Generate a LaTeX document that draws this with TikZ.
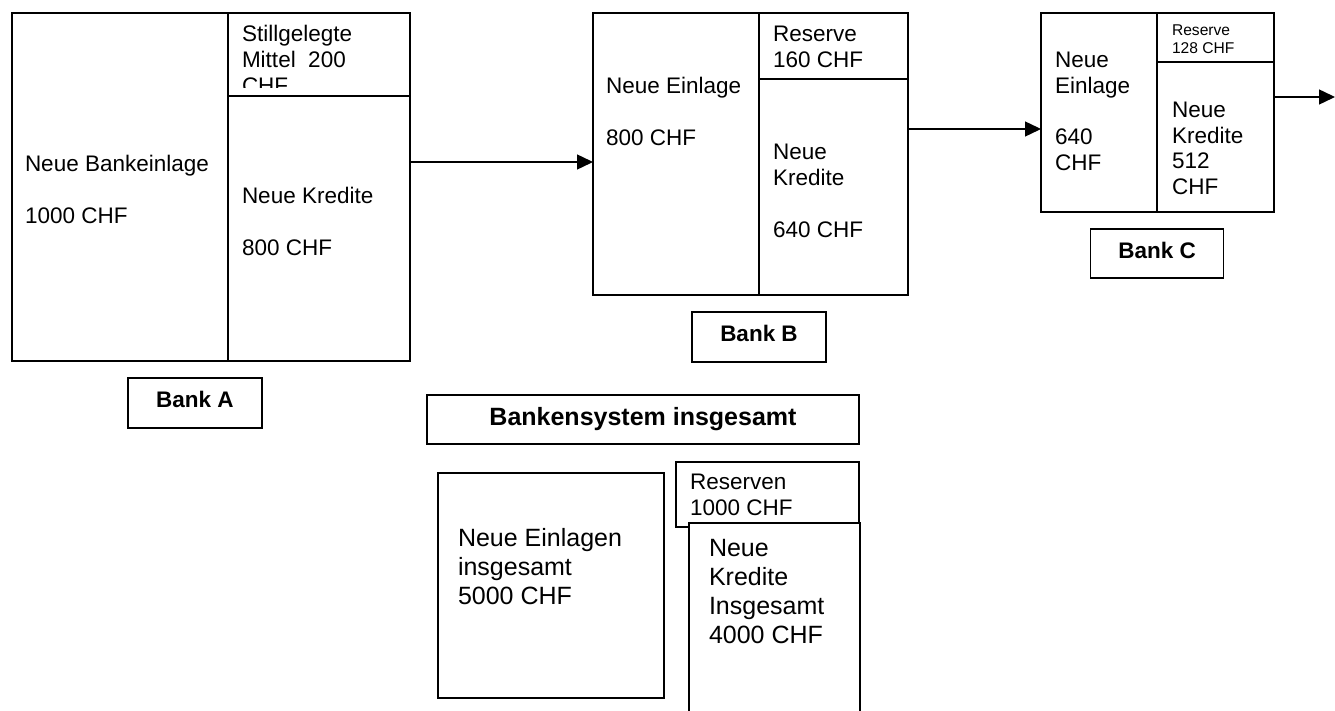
\documentclass[tikz,border=0pt]{standalone}
\usepackage{fontspec}
\setmainfont{Liberation Sans}
\usetikzlibrary{arrows.meta}
\tikzset{
  box/.style={draw, line width=1.4pt, outer sep=0pt, inner sep=0pt, anchor=north west, fill=white},
  lbl/.style={draw, line width=1.4pt, outer sep=0pt, inner sep=0pt, font=\fontsize{22.5}{26}\selectfont\bfseries, text depth=6.5pt},
  txt/.style={anchor=north west, inner sep=0pt, outer sep=0pt, align=left, font=\fontsize{22.5}{26}\selectfont},
  bigtxt/.style={anchor=north west, inner sep=0pt, outer sep=0pt, align=left, font=\fontsize{25}{29}\selectfont},
  smalltxt/.style={anchor=north west, inner sep=0pt, outer sep=0pt, align=left, font=\fontsize{15.6}{18}\selectfont},
  divider/.style={line width=1.4pt},
  arr/.style={line width=1.4pt, -{Triangle[length=16pt,width=15pt]}}
}
\begin{document}
\begin{tikzpicture}[x=1pt,y=-1pt]
\useasboundingbox (0,0) rectangle (1335,711);
\clip (0,0) rectangle (1335,711);

% ---------- Bank A ----------
\node[box, minimum width=398pt, minimum height=348pt] (A) at (12,13) {};
\coordinate (Atop) at (228,13);
\coordinate (Abot) at (228,361);
\draw[divider] (Atop) -- (Abot);
\coordinate (Amid) at (228,96);
\draw[divider] (Amid) -- (Amid -| A.east);
\node[txt] (Adep) at (25,155) {Neue Bankeinlage\\[26pt]1000 CHF};
\begin{scope}
  \clip (228,13) rectangle (410,88);
  \node[txt] (Astill) at (242,25) {Stillgelegte\\Mittel\ \ 200\\CHF};
\end{scope}
\node[txt] (Akred) at (242,187) {Neue Kredite\\[26pt]800 CHF};
\node[lbl, minimum width=134pt, minimum height=50pt] (LA) at (195,403) {Bank A};

% ---------- Bank B ----------
\node[box, minimum width=315pt, minimum height=282pt] (B) at (593,13) {};
\coordinate (Btop) at (759,13);
\coordinate (Bbot) at (759,295);
\draw[divider] (Btop) -- (Bbot);
\coordinate (Bmid) at (759,79);
\draw[divider] (Bmid) -- (Bmid -| B.east);
\node[txt] (Bdep) at (606,77) {Neue Einlage\\[26pt]800 CHF};
\node[txt] (Bres) at (773,26.5) {Reserve\\160 CHF};
\node[txt] (Bkred) at (773,144) {Neue\\Kredite\\[26pt]640 CHF};
\node[lbl, minimum width=134pt, minimum height=50pt] (LB) at (759,337) {Bank B};

% ---------- Bank C ----------
\node[box, minimum width=233pt, minimum height=199pt] (C) at (1041,13) {};
\coordinate (Ctop) at (1157,13);
\coordinate (Cbot) at (1157,212);
\draw[divider] (Ctop) -- (Cbot);
\coordinate (Cmid) at (1157,62);
\draw[divider] (Cmid) -- (Cmid -| C.east);
\node[txt] (Cdep) at (1055,52) {Neue\\Einlage\\[25pt]640\\CHF};
\node[smalltxt] (Cres) at (1172,25) {Reserve\\128 CHF};
\node[txt, font=\fontsize{22.5}{25.7}\selectfont] (Ckred) at (1172,102) {Neue\\Kredite\\512\\CHF};
\node[lbl, minimum width=133pt, minimum height=49pt] (LC) at (1157,253.5) {Bank C};

% ---------- arrows ----------
\coordinate (Aout) at (410,162);
\coordinate (Bin) at (593,162);
\draw[arr] (Aout) -- (Bin);
\coordinate (Bout) at (908,129);
\coordinate (Cin) at (1041,129);
\draw[arr] (Bout) -- (Cin);
\coordinate (Cout) at (1274,97);
\coordinate (Next) at (1335,97);
\draw[arr] (Cout) -- (Next);

% ---------- Bankensystem insgesamt ----------
\node[draw, line width=1.4pt, outer sep=0pt, inner sep=0pt, minimum width=432pt, minimum height=49pt,
      font=\fontsize{25}{29}\selectfont\bfseries] (Sys) at (643,419.5) {Bankensystem insgesamt};
\node[box, minimum width=226pt, minimum height=225pt] (E) at (438,473) {};
\node[bigtxt] (Etxt) at (458,528) {Neue Einlagen\\insgesamt\\5000 CHF};
\node[box, minimum width=183pt, minimum height=65pt] (R) at (676,462) {};
\node[txt] (Rtxt) at (690,474) {Reserven\\1000 CHF};
\node[box, minimum width=171pt, minimum height=220pt] (K) at (689,523) {};
\node[bigtxt] (Ktxt) at (709,539) {Neue\\Kredite\\Insgesamt\\4000 CHF};
\end{tikzpicture}
\end{document}
